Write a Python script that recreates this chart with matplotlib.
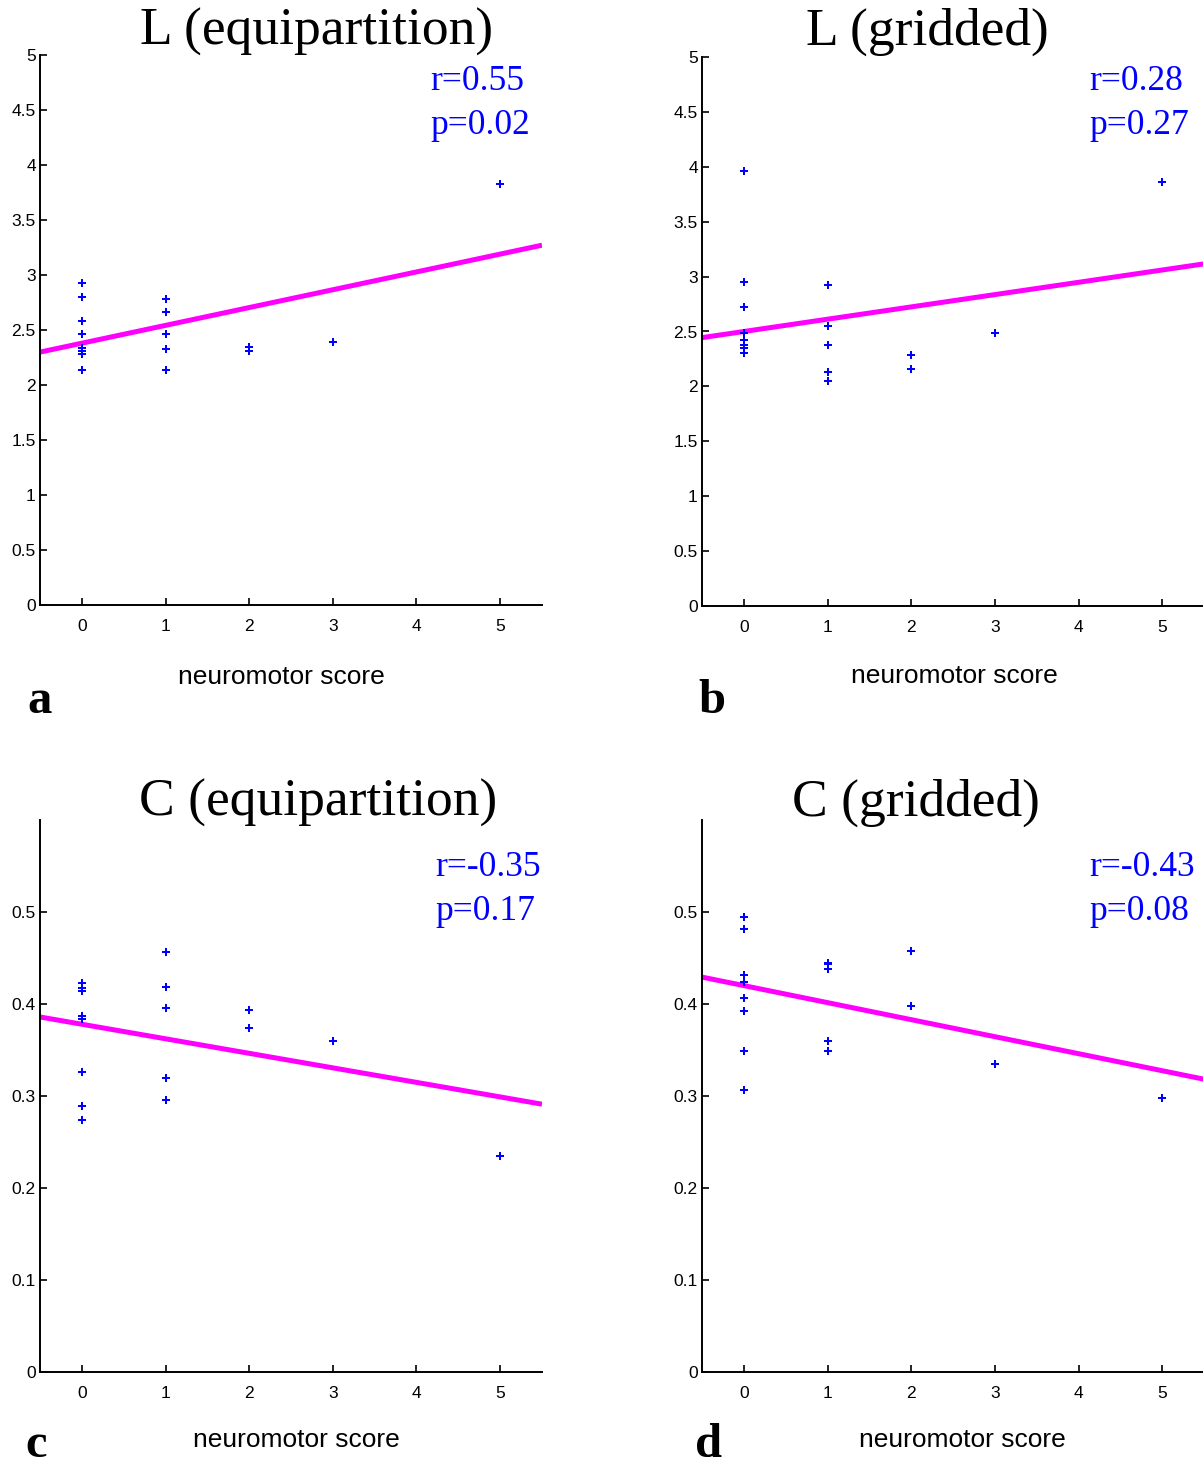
import matplotlib
matplotlib.use("Agg")
import matplotlib.pyplot as plt
import numpy as np

# ---------------- data ----------------
titles = ["L (equipartition)", "L (gridded)", "C (equipartition)", "C (gridded)"]
panel_letters = ["a", "b", "c", "d"]
r_texts = ["r=0.55", "r=0.28", "r=-0.35", "r=-0.43"]
p_texts = ["p=0.02", "p=0.27", "p=0.17", "p=0.08"]
xlabel = "neuromotor score"

a_x = [0, 0, 0, 0, 0, 0, 0, 0, 1, 1, 1, 1, 1, 2, 2, 3, 5]
a_y = [2.93, 2.80, 2.58, 2.46, 2.34, 2.31, 2.28, 2.14,
       2.78, 2.66, 2.46, 2.33, 2.14, 2.35, 2.31, 2.39, 3.83]
b_x = [0, 0, 0, 0, 0, 0, 0, 0, 1, 1, 1, 1, 1, 2, 2, 3, 5]
b_y = [3.96, 2.95, 2.72, 2.49, 2.42, 2.38, 2.35, 2.30,
       2.92, 2.55, 2.38, 2.13, 2.05, 2.29, 2.16, 2.49, 3.86]
c_x = [0, 0, 0, 0, 0, 0, 0, 0, 1, 1, 1, 1, 1, 2, 2, 3, 5]
c_y = [0.423, 0.417, 0.414, 0.387, 0.384, 0.326, 0.289, 0.274,
       0.456, 0.418, 0.396, 0.320, 0.296, 0.394, 0.374, 0.360, 0.235]
d_x = [0, 0, 0, 0, 0, 0, 0, 0, 1, 1, 1, 1, 1, 2, 2, 3, 5]
d_y = [0.495, 0.481, 0.431, 0.424, 0.406, 0.392, 0.349, 0.306,
       0.445, 0.443, 0.438, 0.360, 0.349, 0.458, 0.398, 0.335, 0.298]

# regression lines (intercept, slope)
fit_intercepts = [2.38, 2.50, 0.378, 0.420]
fit_slopes = [0.162, 0.112, -0.0158, -0.0185]

x_ticks = [0, 1, 2, 3, 4, 5]
L_yticks = [0, 0.5, 1, 1.5, 2, 2.5, 3, 3.5, 4, 4.5, 5]
L_yticklabels = ["0", "0.5", "1", "1.5", "2", "2.5", "3", "3.5", "4", "4.5", "5"]
C_yticks = [0, 0.1, 0.2, 0.3, 0.4, 0.5]
C_yticklabels = ["0", "0.1", "0.2", "0.3", "0.4", "0.5"]

# ---------------- figure ----------------
W, H = 1203, 1471
fig = plt.figure(figsize=(W / 100, H / 100), dpi=100)

def fx(px):
    return px / W

def fy(py):
    return 1 - py / H

# axes boxes in pixel coords: left, top, right, bottom
boxes = [(40, 55, 542, 605), (702, 57, 1204, 606),
         (40, 820, 542, 1372), (702, 820, 1204, 1372)]
xs = [a_x, b_x, c_x, d_x]
ys = [a_y, b_y, c_y, d_y]
ylims = [(0, 5), (0, 5), (0, 0.6), (0, 0.6)]
yticks = [L_yticks, L_yticks, C_yticks, C_yticks]
ytl = [L_yticklabels, L_yticklabels, C_yticklabels, C_yticklabels]

title_pos = [(317, 32), (927, 32), (318, 803), (916, 803)]
rp_pos = [(430, 82, 125), (1089, 82, 125), (435, 868, 911), (1089, 868, 911)]
xlabel_pos = [(281, 677), (954, 676), (296, 1440), (962, 1440)]
letter_pos = [(27, 713), (698, 713), (25, 1457), (695, 1457)]

for i in range(4):
    l, t, r, b = boxes[i]
    ax = fig.add_axes([fx(l), fy(b), (r - l) / W, (b - t) / H])
    xline = np.array([-0.5, 5.5])
    ax.plot(xline, fit_intercepts[i] + fit_slopes[i] * xline,
            color="#ff00ff", lw=3.6, solid_capstyle="butt", zorder=2)
    ax.plot(xs[i], ys[i], linestyle="none", marker="P", markersize=6,
            color="#0000ff", markeredgewidth=0, zorder=3)
    ax.set_xlim(-0.5, 5.5)
    ax.set_ylim(*ylims[i])
    ax.set_xticks(x_ticks)
    ax.set_xticklabels([str(v) for v in x_ticks])
    ax.set_yticks(yticks[i])
    ax.set_yticklabels(ytl[i])
    for s in ["top", "right"]:
        ax.spines[s].set_visible(False)
    for s in ["left", "bottom"]:
        ax.spines[s].set_linewidth(1.4)
    ax.tick_params(axis="both", direction="in", length=5, width=1.2,
                   labelsize=12.5)
    ax.tick_params(axis="x", pad=10)
    ax.tick_params(axis="y", pad=3)
    for lab in ax.get_xticklabels() + ax.get_yticklabels():
        lab.set_family("Liberation Sans")

    tx, ty = title_pos[i]
    fig.text(fx(tx), fy(ty), titles[i], ha="center", va="center",
             family="Liberation Serif", fontsize=38.5)
    rx, ry, py_ = rp_pos[i]
    fig.text(fx(rx), fy(ry), r_texts[i], ha="left", va="center",
             family="Liberation Serif", fontsize=25.5, color="#0000ff")
    fig.text(fx(rx), fy(py_), p_texts[i], ha="left", va="center",
             family="Liberation Serif", fontsize=25.5, color="#0000ff")
    lx, ly = xlabel_pos[i]
    fig.text(fx(lx), fy(ly), xlabel, ha="center", va="center",
             family="Liberation Sans", fontsize=19)
    gx, gy = letter_pos[i]
    fig.text(fx(gx), fy(gy), panel_letters[i], ha="left", va="baseline",
             family="Liberation Serif", fontweight="bold", fontsize=35)

fig.savefig("out.png", dpi=100)
